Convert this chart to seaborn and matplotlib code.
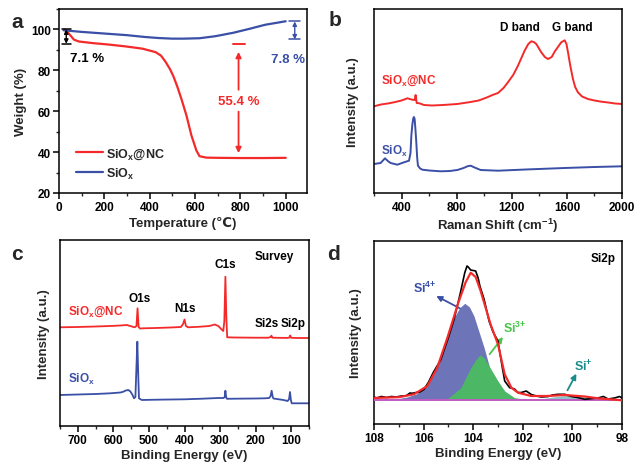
import numpy as np
import pandas as pd
import matplotlib
matplotlib.use("Agg")
import matplotlib.pyplot as plt
from matplotlib.ticker import AutoMinorLocator, MultipleLocator
import seaborn as sns

# ---------------- data ----------------
# (a) TGA
tga_nc_T = [25, 44, 66, 88, 150, 220, 294, 368, 426, 450, 471, 490, 505, 522, 540, 562, 584, 606, 620, 650, 700, 800, 900, 1000]
tga_nc_W = [100, 97.9, 95, 94.1, 93.3, 92.6, 91.7, 90.6, 88.9, 87.2, 84, 80.5, 77, 72, 66, 58, 48.2, 40.8, 38, 37.3, 37.2, 37.1, 37.1, 37.2]
tga_si_T = [20, 100, 200, 300, 380, 440, 500, 550, 620, 690, 770, 840, 910, 1000]
tga_si_W = [99.6, 98.8, 98.0, 97.2, 96.3, 95.8, 95.5, 95.5, 95.7, 96.7, 98.4, 100.3, 102.3, 104.0]

# (b) Raman
raman_nc_x = [200, 250, 300, 345, 400, 442, 478, 495, 502, 510, 530, 563, 620, 700, 805, 900, 960, 1022, 1060, 1100,
              1140, 1172, 1210, 1245, 1293, 1320, 1342, 1360, 1378, 1414, 1440, 1463, 1490, 1511, 1540, 1559, 1584,
              1597, 1608, 1625, 1644, 1660, 1680, 1710, 1753, 1800, 1850, 1900, 1950, 2000]
raman_nc_y = [86.7, 88.5, 89.5, 90.7, 92.5, 94.7, 93.3, 93.0, 98, 90, 89.7, 88, 87.5, 88, 89, 91, 92.5, 95.7, 98, 100,
              105, 110.7, 118, 127.3, 142.3, 149, 151.7, 151, 149, 140.7, 136, 134, 136, 141.3, 147, 150.7, 152.7,
              149, 140.7, 127, 114, 106, 100.7, 96.5, 94, 92.5, 91.3, 90.5, 89.5, 89]
raman_si_x = [200, 248, 265, 280, 300, 321, 369, 418, 454, 465, 471, 478, 485, 490, 495, 500, 507, 513, 519, 535, 551,
              600, 684, 750, 805, 850, 880, 902, 930, 974, 1100, 1300, 1584, 1800, 2000]
raman_si_y = [29, 30, 32.5, 34.7, 32, 30, 28.3, 30.7, 32.3, 40, 57.3, 68, 74.7, 76, 74, 65, 50.7, 36, 27.3, 24.5, 23.3,
              22.5, 21.7, 22, 23, 25, 26.8, 27.3, 25.5, 23, 22.3, 23.5, 25, 26, 26.7]

# (c) XPS survey
xps_nc_x = [750, 700, 650, 609, 580, 562, 548, 540, 535, 532, 529, 525, 516, 480, 440, 410, 404, 400, 396, 390, 360,
            330, 315, 305, 297, 291, 288, 285, 282.5, 280, 260, 200, 164, 158, 155.5, 153, 140, 110, 105, 103, 100, 80, 50]
xps_nc_y = [98.7, 99, 99.5, 100, 100.5, 101, 99.5, 98.7, 100, 117.7, 99, 97.5, 97.7, 98, 98.5, 99, 102, 106.5, 100,
            98.7, 99.2, 100, 101.5, 100, 97, 95, 105, 149.3, 110, 88.7, 88.5, 88.3, 88.3, 89, 90.3, 88.3, 88.2, 88.1,
            88.5, 90.5, 88.2, 88, 88]
xps_si_x = [750, 700, 650, 609, 580, 572, 565, 558, 552, 546, 542, 538, 535, 532.6, 530, 528, 520, 480, 440, 400, 350,
            305, 290, 287, 285, 283, 280.5, 260, 200, 173.7, 162, 158, 155, 152, 150, 140, 122, 110, 106, 103.4, 101,
            98.6, 80, 50]
xps_si_y = [31, 31.5, 32, 32.7, 33.5, 34.3, 35.5, 36, 34.5, 31, 27.7, 29, 60, 84.3, 50, 27.7, 26, 26.3, 26.5, 26.7,
            27.3, 28, 28, 29, 35.3, 29, 27.2, 27.3, 27.5, 27.7, 28, 30, 35.3, 29, 27.5, 27, 26, 25, 27, 34, 26, 22.7,
            22.7, 22.7]

# (d) Si2p high resolution
si2p_raw_x = [108, 107.9, 107.7, 107.5, 107.3, 107.1, 106.9, 106.7, 106.55, 106.46, 106.3, 106.15, 105.98, 105.8, 105.6,
              105.31, 104.98, 104.77, 104.53, 104.34, 104.25, 104.2, 104.1, 104.04, 103.9, 103.8, 103.73, 103.56,
              103.36, 103.2, 103.0, 102.85, 102.73, 102.53, 102.33, 102.2, 102.06, 101.86, 101.66, 101.45, 101.25,
              100.98, 100.8, 100.58, 100.31, 100.04, 99.8, 99.5, 99.2, 98.97, 98.75, 98.56, 98.3, 98.1, 98.0]
si2p_raw_y = [27, 26, 27.5, 26.5, 27.5, 27, 28, 28.3, 31, 30.7, 31.5, 32, 34.7, 42, 52,
              64, 88, 104.7, 129.7, 151.3, 158, 157, 154, 153.7, 153, 146, 138, 124.7,
              103, 92, 83, 60, 43, 36.3, 35, 31.5, 31.5, 33, 29.5, 28, 27,
              27.5, 29, 29.7, 29.7, 27.5, 26.5, 24.7, 25.5, 26, 27.5, 25, 26, 27.5, 26]
si2p_fit_x = [108, 107, 106.39, 105.85, 105.45, 105.04, 104.6, 104.3, 104.1, 103.9, 103.7, 103.3, 103.0, 102.73,
              102.46, 102.19, 101.66, 101.0, 100.31, 99.5, 98.97, 98]
si2p_fit_y = [26, 26.8, 29.7, 38, 56.3, 86.3, 121.3, 142, 151.3, 147, 133, 99.7, 79.7, 49.7,
              36.3, 31.3, 28, 28, 29, 27.5, 25.7, 23.7]
si4_x = [108, 107, 106.66, 106.3, 105.98, 105.58, 105.18, 104.77, 104.55, 104.34, 104.15, 103.97, 103.56, 103.3, 103.0,
         102.7, 102.3, 101.8, 98]
si4_y = [24.5, 25.5, 27, 30, 36.3, 49.7, 76.3, 106.3, 116, 120.7, 117, 108, 76.3, 53, 36.3,
         29, 25.5, 24, 23.7]
si3_x = [108, 105.5, 105.0, 104.9, 104.5, 104.1, 103.9, 103.73, 103.55, 103.36, 103.0, 102.73, 102.33, 101.66, 98]
si3_y = [23.7, 23.7, 26, 28, 36.3, 56.3, 64, 69, 66, 58, 43, 33, 26.3, 23.9, 23.7]
si1_x = [102.0, 101.8, 101.3, 100.8, 100.3, 99.8, 99.3, 98.8, 98.3, 98]
si1_y = [23.7, 23.8, 25, 27, 28.5, 28, 26.5, 25, 24.2, 24]
baseline_x = [108, 98]
baseline_y = [23.7, 23.7]

# ---------------- style ----------------
sns.set_theme(style="ticks")
plt.rcParams["font.family"] = ["Liberation Sans", "DejaVu Sans"]
plt.rcParams["font.weight"] = "bold"
plt.rcParams["axes.labelweight"] = "bold"
plt.rcParams["mathtext.fontset"] = "custom"
plt.rcParams["mathtext.rm"] = "Liberation Sans:bold"
plt.rcParams["mathtext.bf"] = "Liberation Sans:bold"
plt.rcParams["mathtext.it"] = "Liberation Sans:bold"
plt.rcParams["axes.linewidth"] = 1.1
plt.rcParams["axes.edgecolor"] = "black"

RED = "#f42a2a"
BLUE = "#3a4fa6"
TICK_FS = 8.5
LAB_FS = 9.5

fig = plt.figure(figsize=(6.36, 4.64), dpi=100)
W, H = 636, 464


def add_ax(l, t, r, b):
    return fig.add_axes([l / W, 1 - b / H, (r - l) / W, (b - t) / H])


def style(ax):
    ax.tick_params(axis="both", which="major", direction="out", length=4, width=1.1,
                   labelsize=TICK_FS, colors="black", pad=2)
    ax.tick_params(axis="both", which="minor", direction="out", length=2.2, width=1.0)
    ax.tick_params(top=False, right=False, which="both")
    for s in ax.spines.values():
        s.set_visible(True)
        s.set_color("black")
        s.set_linewidth(1.1)
    for lab in ax.get_xticklabels() + ax.get_yticklabels():
        lab.set_fontweight("bold")


sub_nc = r"SiO$_\mathbf{x}$@NC"
sub_si = r"SiO$_\mathbf{x}$"

# ---------------- (a) ----------------
ax = add_ax(59, 10, 307, 194)
sns.lineplot(x=tga_nc_T, y=tga_nc_W, ax=ax, color=RED, lw=1.6, label=sub_nc)
sns.lineplot(x=tga_si_T, y=tga_si_W, ax=ax, color=BLUE, lw=1.6, label=sub_si)
ax.set_xlim(0, 1094)
ax.set_ylim(20, 110)
ax.xaxis.set_major_locator(MultipleLocator(200))
ax.xaxis.set_minor_locator(AutoMinorLocator(2))
ax.yaxis.set_major_locator(MultipleLocator(20))
ax.yaxis.set_minor_locator(AutoMinorLocator(2))
ax.set_xlabel("Temperature (\u2103)", fontsize=LAB_FS, labelpad=2)
ax.set_ylabel("Weight (%)", fontsize=LAB_FS, labelpad=3)
style(ax)
ax.legend(loc="center left", bbox_to_anchor=(0.07, 0.16), frameon=False, fontsize=9,
          handlelength=2.1, handletextpad=0.3, labelspacing=0.35, borderpad=0, borderaxespad=0)
# black 7.1 %
ax.plot([12, 55], [100, 100], color="black", lw=1.1)
ax.plot([12, 55], [93, 93], color="black", lw=1.1)
ax.annotate("", xy=(32, 93), xytext=(32, 100),
            arrowprops=dict(arrowstyle="<|-|>", color="black", lw=1.0, mutation_scale=6, shrinkA=0, shrinkB=0))
ax.text(125, 86, "7.1 %", color="black", fontsize=9.5, ha="center", va="center", fontweight="bold")
# red 55.4 %
ax.plot([767, 819], [93, 93], color=RED, lw=1.4)
ax.annotate("", xy=(792, 89), xytext=(792, 70.5),
            arrowprops=dict(arrowstyle="-|>", color=RED, lw=1.3, mutation_scale=8, shrinkA=0, shrinkB=0))
ax.annotate("", xy=(792, 39.5), xytext=(792, 59.8),
            arrowprops=dict(arrowstyle="-|>", color=RED, lw=1.3, mutation_scale=8, shrinkA=0, shrinkB=0))
ax.text(792, 65.2, "55.4 %", color=RED, fontsize=9.5, ha="center", va="center", fontweight="bold")
# blue 7.8 %
ax.plot([1015, 1062], [103.9, 103.9], color=BLUE, lw=1.1)
ax.plot([1015, 1062], [95.1, 95.1], color=BLUE, lw=1.1)
ax.annotate("", xy=(1040, 95.1), xytext=(1040, 103.9),
            arrowprops=dict(arrowstyle="<|-|>", color=BLUE, lw=1.0, mutation_scale=6, shrinkA=0, shrinkB=0))
ax.text(1012, 85.7, "7.8 %", color=BLUE, fontsize=9.5, ha="center", va="center", fontweight="bold")

# ---------------- (b) ----------------
ax = add_ax(374, 10, 622, 194)
sns.lineplot(x=raman_nc_x, y=raman_nc_y, ax=ax, color=RED, lw=1.4)
sns.lineplot(x=raman_si_x, y=raman_si_y, ax=ax, color=BLUE, lw=1.4)
ax.set_xlim(200, 2000)
ax.set_ylim(0, 184)
ax.xaxis.set_major_locator(MultipleLocator(400))
ax.xaxis.set_minor_locator(AutoMinorLocator(2))
ax.set_yticks([])
ax.set_xlabel(r"Raman Shift (cm$^{{-}1}$)", fontsize=LAB_FS, labelpad=2)
ax.set_ylabel("Intensity (a.u.)", fontsize=LAB_FS, labelpad=11)
style(ax)
ax.text(249, 113.3, sub_nc, color=RED, fontsize=8.5, ha="left", va="center")
ax.text(253, 42.3, sub_si, color=BLUE, fontsize=8.5, ha="left", va="center")
ax.text(1262, 165.7, "D band", color="black", fontsize=8.5, ha="center", va="center")
ax.text(1637, 165.7, "G band", color="black", fontsize=8.5, ha="center", va="center")

# ---------------- (c) ----------------
ax = add_ax(60, 241, 309, 427)
sns.lineplot(x=xps_nc_x, y=xps_nc_y, ax=ax, color=RED, lw=1.3, sort=False)
sns.lineplot(x=xps_si_x, y=xps_si_y, ax=ax, color=BLUE, lw=1.3, sort=False)
ax.set_xlim(750, 50)
ax.set_ylim(0, 186)
ax.xaxis.set_major_locator(MultipleLocator(100))
ax.xaxis.set_minor_locator(AutoMinorLocator(2))
ax.set_yticks([])
ax.set_xlabel("Binding Energy (eV)", fontsize=LAB_FS, labelpad=2)
ax.set_ylabel("Intensity (a.u.)", fontsize=LAB_FS, labelpad=7)
style(ax)
ax.text(727.5, 115, sub_nc, color=RED, fontsize=8.5, ha="left", va="center")
ax.text(727.5, 48, sub_si, color=BLUE, fontsize=8.5, ha="left", va="center")
ax.text(527, 128, "O1s", fontsize=8.5, ha="center", va="center", color="black")
ax.text(398.6, 117.7, "N1s", fontsize=8.5, ha="center", va="center", color="black")
ax.text(286, 161.7, "C1s", fontsize=8.5, ha="center", va="center", color="black")
ax.text(148, 170, "Survey", fontsize=8.5, ha="center", va="center", color="black")
ax.text(169, 103.3, "Si2s", fontsize=8.5, ha="center", va="center", color="black")
ax.text(94, 103.3, "Si2p", fontsize=8.5, ha="center", va="center", color="black")

# ---------------- (d) ----------------
ax = add_ax(374, 242, 622, 425)
ax.fill_between(si4_x, 23.7, si4_y, color="#6e74b8", lw=0, zorder=1)
ax.fill_between(si3_x, 23.7, si3_y, color="#4cb866", lw=0, zorder=2)
ax.fill_between(si1_x, 23.7, si1_y, color="#86c6c9", lw=0, zorder=2)
sns.lineplot(x=baseline_x, y=baseline_y, ax=ax, color="#c25cc2", lw=1.4, zorder=3)
sns.lineplot(x=si2p_raw_x, y=si2p_raw_y, ax=ax, color="black", lw=1.2, zorder=4)
sns.lineplot(x=si2p_fit_x, y=si2p_fit_y, ax=ax, color=RED, lw=1.6, zorder=5)
ax.set_xlim(108, 98)
ax.set_ylim(0, 183)
ax.xaxis.set_major_locator(MultipleLocator(2))
ax.xaxis.set_minor_locator(AutoMinorLocator(2))
ax.set_yticks([])
ax.set_xlabel("Binding Energy (eV)", fontsize=LAB_FS, labelpad=2)
ax.set_ylabel("Intensity (a.u.)", fontsize=LAB_FS, labelpad=9)
style(ax)
ax.text(98.77, 166.3, "Si2p", fontsize=8.5, ha="center", va="center", color="black")
ax.text(105.96, 136.3, r"Si$^{4{+}}$", fontsize=9, ha="center", va="center", color="#3a4fa6")
ax.annotate("", xy=(105.49, 128), xytext=(104.54, 115.7),
            arrowprops=dict(arrowstyle="-|>", color="#3a4fa6", lw=1.3, mutation_scale=8, shrinkA=0, shrinkB=0))
ax.text(102.33, 96.3, r"Si$^{3{+}}$", fontsize=9, ha="center", va="center", color="#4cc44c")
ax.annotate("", xy=(102.8, 87), xytext=(103.34, 69.7),
            arrowprops=dict(arrowstyle="-|>", color="#4cc44c", lw=1.3, mutation_scale=8, shrinkA=0, shrinkB=0))
ax.text(99.54, 58, r"Si$^{+}$", fontsize=9, ha="center", va="center", color="#1a8c8c")
ax.annotate("", xy=(99.84, 50.3), xytext=(100.2, 33.7),
            arrowprops=dict(arrowstyle="-|>", color="#1a8c8c", lw=1.3, mutation_scale=8, shrinkA=0, shrinkB=0))

# panel letters
for letter, px, py in [("a", 17, 22), ("b", 335, 21), ("c", 17, 255), ("d", 334, 254)]:
    fig.text(px / W, 1 - py / H, letter, fontsize=15, fontweight="bold", ha="center", va="center")

fig.savefig("out.png", dpi=100)
